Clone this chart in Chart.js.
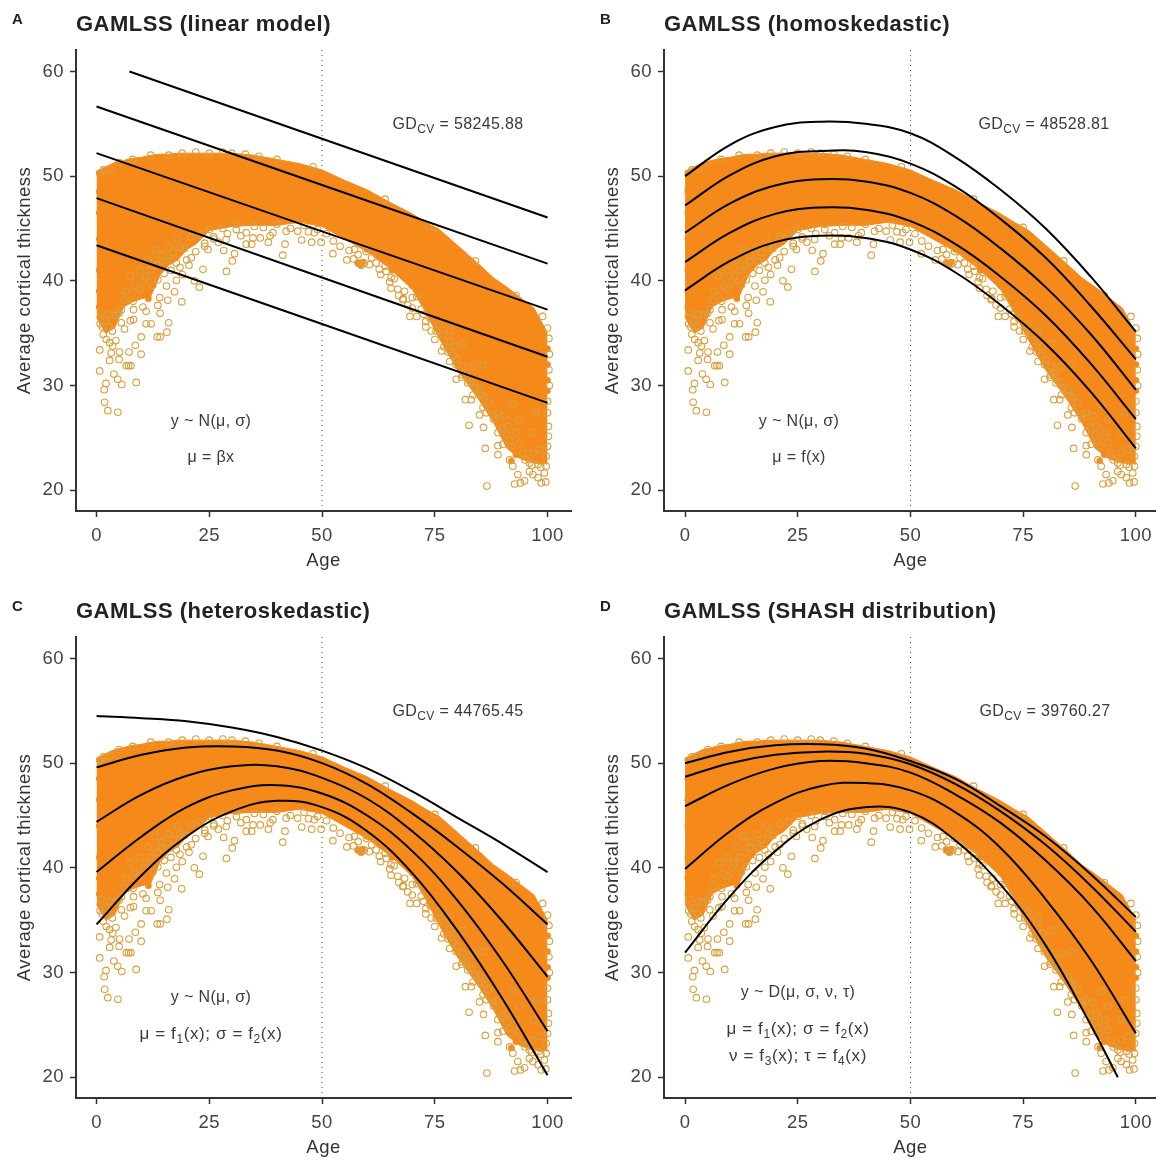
<!DOCTYPE html>
<html>
<head>
<meta charset="utf-8">
<script src="https://cdn.jsdelivr.net/npm/chart.js@4"></script>
<style>
html, body { margin: 0; padding: 0; background: #fff; width: 1156px; height: 1160px; overflow: hidden; }
canvas { position: absolute; }
.nota { position: absolute; transform: translate(-50%, -50%); white-space: nowrap; font-family: "Liberation Sans", Arial, sans-serif; font-size: 16px; letter-spacing: 0.35px; color: #3a3a3a; }
.nota sub { font-size: 12px; line-height: 0; }
.formula { font-size: 17px; letter-spacing: 0.6px; }
.letra { position: absolute; font-family: "Liberation Sans", Arial, sans-serif; font-weight: bold; font-size: 15px; color: #222; }
</style>
</head>
<body>
<canvas id="panelA" width="578" height="575" style="left:0;top:0"></canvas>
<canvas id="panelB" width="574" height="575" style="left:588px;top:0"></canvas>
<canvas id="panelC" width="578" height="575" style="left:0;top:587px"></canvas>
<canvas id="panelD" width="574" height="575" style="left:588px;top:587px"></canvas>

<div class="letra" style="left:12px;top:10px">A</div>
<div class="letra" style="left:600px;top:10px">B</div>
<div class="letra" style="left:12px;top:597px">C</div>
<div class="letra" style="left:600px;top:597px">D</div>

<div class="nota" style="left:458px;top:124px">GD<sub>CV</sub> = 58245.88</div>
<div class="nota" style="left:1044px;top:124px">GD<sub>CV</sub> = 48528.81</div>
<div class="nota" style="left:458px;top:711px">GD<sub>CV</sub> = 44765.45</div>
<div class="nota" style="left:1045px;top:711px">GD<sub>CV</sub> = 39760.27</div>

<div class="nota" style="left:211px;top:421px">y ~ N(μ, σ)</div>
<div class="nota" style="left:211px;top:457px">μ = βx</div>
<div class="nota" style="left:799px;top:421px">y ~ N(μ, σ)</div>
<div class="nota" style="left:799px;top:457px">μ = f(x)</div>
<div class="nota" style="left:211px;top:997px">y ~ N(μ, σ)</div>
<div class="nota formula" style="left:211px;top:1034px">μ = f<sub>1</sub>(x); σ = f<sub>2</sub>(x)</div>
<div class="nota" style="left:798px;top:992px">y ~ D(μ, σ, ν, τ)</div>
<div class="nota formula" style="left:798px;top:1029px">μ = f<sub>1</sub>(x); σ = f<sub>2</sub>(x)</div>
<div class="nota formula" style="left:798px;top:1056px">ν = f<sub>3</sub>(x); τ = f<sub>4</sub>(x)</div>

<script>
var xTicks = [0, 25, 50, 75, 100]
var yTicks = [20, 30, 40, 50, 60]

var bandAges  = [0, 2, 4, 6, 8, 10, 12, 14, 16, 18, 20, 22, 25, 30, 35, 40, 45, 50, 55, 60, 65, 70, 73, 76, 80, 85, 88, 91, 94, 97, 100]
var bandUpper = [50.4, 50.9, 51.3, 51.5, 51.7, 51.8, 52, 52.1, 52.1, 52.2, 52.2, 52.2, 52.2, 52.2, 52, 51.6, 51.2, 50.6, 49.6, 48.7, 47.5, 46.4, 45.6, 44.9, 43.4, 41.5, 40.3, 39.4, 38.4, 37.4, 35]
var bandLower = [36.5, 35, 35.5, 37.5, 38, 38.3, 38.5, 40.5, 41.5, 42, 43, 43.5, 44.8, 45.2, 45.3, 45.3, 45.6, 45.2, 44, 42.8, 41.2, 39.2, 37, 34.5, 31.5, 28.5, 26.5, 24, 23, 22.6, 22.5]

// single points around the solid part
var pointAgesLeft = [4.73, 2.5, 1.8, 8.8, 5.6, 4.7, 3.85, 2.1, 1.7, 0.7, 7.1, 6.6, 7.6, 5, 2.9, 0.7, 9.9, 7.2, 5.1, 3.25, 8.6, 9.9, 14.1, 13.45, 15.6, 16, 2.9, 2.15, 3.6, 6.2, 1.3, 0.8, 5.5, 7.5, 8.2, 11, 12.1, 14.1, 11, 8.2, 5.5, 13.6, 10.3, 15.8, 18.9, 17.3, 8.1, 6.2, 14, 17.7, 13.6, 22.8, 21.7, 23.6, 28.8, 30.1, 30.6, 28.2, 24.7, 17.7, 16.2, 14.3, 20.5, 19, 12.5, 11, 9.5, 15.5, 18.5, 21, 24, 26]
var pointValsLeft = [27.45, 27.6, 28.4, 30.3, 30.1, 30.6, 31.1, 30.2, 29.6, 31.4, 31.9, 31.9, 31.9, 32.5, 32.4, 33.4, 33, 33.2, 33.2, 33.1, 33.85, 34.65, 34.65, 34.65, 35.1, 36, 34.1, 34.4, 33.75, 35.4, 35.6, 35.9, 36, 36.2, 36.3, 35.9, 35.9, 36.9, 37.1, 37.25, 37.25, 37.65, 37.5, 38.15, 38, 38.95, 38.05, 38.15, 38.4, 40.05, 40.1, 39.4, 40, 41.1, 40.9, 41.9, 42.6, 42.9, 43, 41.7, 41.9, 41.9, 41.5, 40.6, 39.6, 40.4, 39.2, 39.5, 43.2, 42.2, 43.3, 44]

var pointAgesMid = [34.4, 38.1, 41.3, 41.8, 45.5, 47.7, 49.8, 36.3, 33.2, 44.6, 48.3, 42.05, 39.1, 34.7, 33.2, 31, 28.75, 52.4, 54, 55.5, 58, 58.7, 59.4, 57.2, 59.8, 60.5, 62.7, 64.2, 65.3, 65.3, 66.8, 67.9, 68.3, 70, 71, 72.5, 69.5, 73]
var pointValsMid = [43.5, 43.7, 42.45, 43.5, 43.9, 43.7, 43.7, 44.1, 43.5, 44.75, 44.6, 44.75, 44.6, 44.1, 44.6, 44.9, 43.95, 42.6, 43.3, 42, 41.7, 41.5, 41.7, 43, 42.8, 41.55, 41.1, 40.9, 40.3, 39.3, 39.2, 38.2, 39, 37.4, 38.5, 36.8, 36.6, 35.6]

var pointAgesRight = [86.55, 92.7, 94, 94.9, 93.4, 98.6, 99.6, 97.9, 99.3, 96, 96.75, 91.6, 92.3, 89, 89, 86.2, 90.1, 89, 85.8, 82.6, 84.9, 86.4, 87.9, 85.7, 81.8, 83.1, 83.45, 85.3, 79.75, 82.3, 81.2, 78.3, 79.75, 81.2, 83.45, 85.7, 76.5, 78.3, 79.4, 81.2, 74.2, 75.3, 76.8, 78.3, 100, 100, 100.2, 100.2, 100, 99.7, 99.7, 96, 97.9, 94.5, 91.2, 91.6, 93.8, 90.5, 92.3, 93.8, 97.5, 96.75, 98.2, 96.75, 93.1]
var pointValsRight = [20.4, 20.6, 20.7, 20.9, 21.5, 20.7, 20.8, 21.2, 21.65, 21.8, 21.5, 22.9, 22.3, 23.4, 24.26, 24, 24.4, 25.5, 26, 26.2, 27.2, 27.4, 27.2, 27.9, 28.65, 28.65, 29.1, 29.1, 30.6, 30.25, 31, 32.3, 32, 31.85, 31.85, 32, 33.3, 34.2, 33.75, 34, 35.2, 35.2, 34.9, 35.2, 28.5, 27.4, 26.1, 25.15, 24.2, 23.25, 22.3, 22.6, 22.45, 23.55, 26.1, 24.7, 24.5, 27.1, 28.2, 26.75, 27.4, 25.5, 23.9, 23.55, 25.5]

var pointAgesEdge = [0.7, 1.5, 3, 5, 8, 12, 16, 19, 22, 25, 28, 30, 33, 36, 40, 48, 64, 75, 84, 93, 98.9, 100, 100.3, 100.4, 100.3, 100.4]
var pointValsEdge = [50.3, 50.6, 50.7, 51.3, 51.6, 52, 52, 52.2, 52.3, 52.2, 52.3, 52.2, 52.1, 51.9, 51.6, 50.9, 47.8, 45.1, 41.9, 38.6, 36.6, 35.5, 34.5, 33, 31.5, 30]

// points sitting just inside the lower edge of the cloud
var pointAgesInner = [1, 2, 3, 4, 5, 3.5, 2.8, 4.3, 1.5, 6.5, 7.5, 8.5, 9.5, 10.5, 11.5, 12, 13, 13.5, 14.5, 15, 16, 16.5, 17, 18, 18.5, 19.5, 20, 21, 22, 23, 24, 25, 26, 27, 28, 29, 31, 32, 35, 37, 38.5, 40, 43, 46, 47, 49, 51, 52.5, 56, 57, 58, 61, 62, 63, 64, 65, 66, 67, 68, 69, 70, 71, 72, 73, 74, 75, 76, 77, 78, 79, 80, 81, 82, 83, 84, 85, 86, 87, 88, 89, 90, 91, 92, 95, 96.5, 98.5]
var pointValsInner = [37, 36.2, 36.8, 36.7, 36.9, 35.2, 35.6, 34.3, 34.9, 39, 40.5, 39.5, 41, 40, 42, 41, 43, 41.5, 42.5, 40.7, 43.2, 41, 42.7, 44, 41.3, 43.1, 42, 44.2, 42.8, 44.4, 43.6, 44.9, 44.2, 43.7, 45, 44.5, 45.4, 44.3, 45.2, 45.1, 44.3, 45.4, 45, 45.3, 44.7, 44.9, 44.5, 43.8, 42.9, 42.1, 42.5, 42.2, 41.7, 40.6, 41.4, 39.9, 40.2, 38.6, 38.3, 37.7, 38.4, 36.6, 37.3, 36.1, 36.4, 34.4, 35.8, 33.7, 33.2, 32.9, 32.5, 30.8, 31.2, 30.4, 29.8, 29.6, 28.9, 28.4, 26.8, 27.4, 25.9, 25.3, 24.2, 22.9, 22.4, 22.2]

// overlapping points that read as solid orange blobs along the edges
var blobAges = [10.5, 11, 11.5, 58, 58.5, 59, 92, 93, 0.6, 0.6, 0.6, 0.6, 0.6, 0.6, 100, 100, 100, 100, 60, 65.5, 70, 75.5]
var blobVals = [38.7, 38.9, 38.3, 41.7, 41.5, 41.8, 22.8, 23.4, 48.5, 46.5, 44, 41, 39, 37.5, 33.5, 32, 30.5, 29.5, 43, 41, 39.5, 35.5]

// fitted curves, all read at the same ages
var curveAges = [0, 10, 20, 30, 40, 50, 60, 70, 80, 90, 100]

var linearEnds = [0, 100]
var linearTopAges = [7.3, 100]
var linearTop = [60, 46.05]
var linear2 = [56.66, 41.65]
var linear3 = [52.2, 37.25]
var linear4 = [47.9, 32.75]
var linear5 = [43.4, 28.35]

var homo1 = [50, 53, 54.7, 55.2, 55, 54.1, 51.8, 48.7, 45, 40.4, 35.15]
var homo2 = [47.2, 50.1, 51.9, 52.4, 52.3, 51.2, 49, 45.9, 42.2, 37.6, 32.5]
var homo3 = [44.6, 47.4, 49.1, 49.7, 49.5, 48.4, 46.2, 43.1, 39.4, 34.9, 29.6]
var homo4 = [41.8, 44.6, 46.4, 47, 46.8, 45.7, 43.5, 40.4, 36.7, 32.1, 26.8]
var homo5 = [39.1, 41.9, 43.7, 44.3, 44.1, 43, 40.8, 37.7, 34, 29.4, 24]

var hetero1 = [54.5, 54.3, 54, 53.4, 52.5, 51.2, 49.5, 47.3, 44.8, 42.3, 39.6]
var hetero2 = [49.6, 50.8, 51.5, 51.6, 51.2, 50, 48, 45.2, 42, 38.5, 34.6]
var hetero3 = [44.4, 47, 48.8, 49.7, 49.7, 48.6, 46.6, 43.5, 39.6, 34.9, 29.6]
var hetero4 = [39.6, 43, 45.8, 47.4, 47.9, 47.1, 45, 41.6, 36.9, 31.1, 24.4]
var hetero5 = [34.6, 39.3, 43, 45.4, 46.4, 45.8, 43.5, 39.5, 34, 27.5, 20.2]

var shash1 = [50, 51.1, 51.7, 51.8, 51.4, 50.2, 48.5, 45.9, 43, 39.4, 35.3]
var shash2 = [48.7, 50, 50.8, 51.1, 50.9, 49.9, 48, 45.4, 42.2, 38.3, 33.9]
var shash3 = [45.9, 48, 49.5, 50.2, 50, 49.1, 47, 44.3, 40.7, 36.4, 31.1]
var shash4 = [39.9, 43.5, 46.2, 47.8, 48.1, 47.4, 45.3, 41.9, 37, 31.2, 24.2]
var shash5Ages = [0, 10, 20, 30, 40, 50, 60, 70, 80, 90, 96]
var shash5 = [31.9, 37.3, 41.6, 44.6, 45.8, 45.3, 42.6, 38.4, 32.6, 25, 20]

var dottedAge = [50, 50]
var dottedY = [18.02, 62.05]

function a_puntos(xs, ys) {
    return xs.map(function (x, i) { return { x: x, y: ys[i] } })
}

Chart.defaults.font.family = '"Liberation Sans", Arial, sans-serif'

var todos_puntos = a_puntos(pointAgesLeft, pointValsLeft)
    .concat(a_puntos(pointAgesMid, pointValsMid))
    .concat(a_puntos(pointAgesRight, pointValsRight))
    .concat(a_puntos(pointAgesEdge, pointValsEdge))
    .concat(a_puntos(pointAgesInner, pointValsInner))

function linea(xs, ys) {
    return { data: a_puntos(xs, ys), showLine: true, borderColor: '#000', borderWidth: 2, pointRadius: 0, tension: 0.4 }
}

// the reference lettering is a bit wider than Liberation Sans
var espaciado = {
    id: 'espaciado',
    beforeDraw: function (chart) { chart.ctx.letterSpacing = '0.5px' }
}

function crear_panel({ id, titulo, curvas, xMin, xMax, derecha }) {
    var datasets = curvas.slice()
    datasets.push({ data: todos_puntos, showLine: false, pointRadius: 3.3, pointBorderWidth: 1.1, pointBorderColor: '#d9a040', pointBackgroundColor: 'rgba(0,0,0,0)' })
    datasets.push({ data: a_puntos(blobAges, blobVals), showLine: false, pointRadius: 3.3, pointBorderWidth: 0, pointBackgroundColor: '#f58a1b' })
    datasets.push({ data: a_puntos(bandAges, bandUpper), showLine: true, borderColor: '#f58a1b', borderWidth: 1, pointRadius: 0, backgroundColor: '#f58a1b', fill: '+1' })
    datasets.push({ data: a_puntos(bandAges, bandLower), showLine: true, borderColor: '#f58a1b', borderWidth: 1, pointRadius: 0 })
    datasets.push({ data: a_puntos(dottedAge, dottedY), showLine: true, borderColor: '#444', borderWidth: 1, borderDash: [1, 4], pointRadius: 0 })
    return new Chart(document.getElementById(id), {
        type: 'scatter',
        data: { datasets: datasets },
        plugins: [espaciado],
        options: {
            responsive: false,
            animation: false,
            layout: { padding: { right: derecha } },
            plugins: {
                legend: { display: false },
                tooltip: { enabled: false },
                title: {
                    display: true, text: titulo, align: 'start', fullSize: false, color: '#222',
                    font: { size: 22, weight: 'bold' }, padding: { top: 11.8, bottom: 11.8 }
                }
            },
            scales: {
                x: {
                    type: 'linear', min: xMin, max: xMax,
                    afterBuildTicks: function (escala) { escala.ticks = xTicks.map(function (v) { return { value: v } }) },
                    afterFit: function (escala) { escala.height = 64; escala.paddingLeft = 0; escala.paddingRight = 0 },
                    grid: { drawOnChartArea: false, drawTicks: true, tickLength: 6, tickColor: '#333', tickWidth: 1.5 },
                    border: { color: '#333', width: 2 },
                    ticks: { color: '#444', font: { size: 18.5 }, padding: 8, maxRotation: 0, autoSkip: false },
                    title: { display: true, text: 'Age', color: '#333', font: { size: 18.5 }, padding: { top: 0, bottom: 3 } }
                },
                y: {
                    type: 'linear', min: 18.02, max: 62.05,
                    afterBuildTicks: function (escala) { escala.ticks = yTicks.map(function (v) { return { value: v } }) },
                    afterFit: function (escala) { escala.width = 76; escala.paddingTop = 0; escala.paddingBottom = 0 },
                    grid: { drawOnChartArea: false, drawTicks: true, tickLength: 6, tickColor: '#333', tickWidth: 1.5 },
                    border: { color: '#333', width: 2 },
                    ticks: { color: '#444', font: { size: 18.5 }, padding: 6, autoSkip: false },
                    title: { display: true, text: 'Average cortical thickness', color: '#333', font: { size: 18.5 }, padding: { top: 14, bottom: 0 } }
                }
            }
        }
    })
}

crear_panel({
    id: 'panelA', titulo: 'GAMLSS (linear model)', xMin: -4.55, xMax: 105.2, derecha: 7,
    curvas: [linea(linearTopAges, linearTop), linea(linearEnds, linear2), linea(linearEnds, linear3), linea(linearEnds, linear4), linea(linearEnds, linear5)]
})
crear_panel({
    id: 'panelB', titulo: 'GAMLSS (homoskedastic)', xMin: -4.67, xMax: 104.67, derecha: 0,
    curvas: [linea(curveAges, homo1), linea(curveAges, homo2), linea(curveAges, homo3), linea(curveAges, homo4), linea(curveAges, homo5)]
})
crear_panel({
    id: 'panelC', titulo: 'GAMLSS (heteroskedastic)', xMin: -4.55, xMax: 105.2, derecha: 7,
    curvas: [linea(curveAges, hetero1), linea(curveAges, hetero2), linea(curveAges, hetero3), linea(curveAges, hetero4), linea(curveAges, hetero5)]
})
crear_panel({
    id: 'panelD', titulo: 'GAMLSS (SHASH distribution)', xMin: -4.67, xMax: 104.67, derecha: 0,
    curvas: [linea(curveAges, shash1), linea(curveAges, shash2), linea(curveAges, shash3), linea(curveAges, shash4), linea(shash5Ages, shash5)]
})
</script>
</body>
</html>
